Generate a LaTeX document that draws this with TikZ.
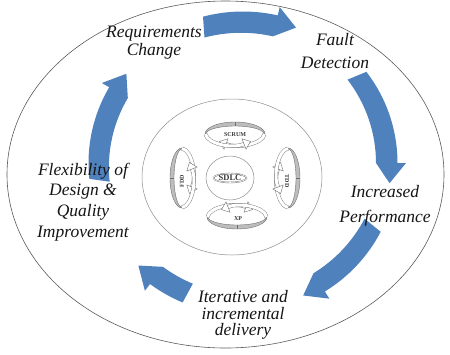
\documentclass[tikz,border=0pt]{standalone}
\usepackage{fontspec}
\setmainfont{Liberation Serif}
\usetikzlibrary{shapes.geometric}
\definecolor{cCycle}{HTML}{4F81BD}
\definecolor{cRim}{HTML}{5A5A5A}
\definecolor{cHalo}{HTML}{8C8C8C}
\definecolor{cRing}{HTML}{6E6E6E}
\definecolor{cBand}{HTML}{BDBDBD}
\definecolor{cInk}{HTML}{151515}

\tikzset{
  cycicon/.pic={
    % back half of the ring
    \path[band] (-30,0) arc[start angle=180, end angle=360, x radius=30, y radius=12]
      -- (29,0) arc[start angle=0, end angle=-180, x radius=29, y radius=8] -- cycle;
    \draw[cRing, line width=.4pt] (0,-12) -- (0,-8);
    % crossing arrows in front
    \draw[ribbon] (29.5,0) .. controls (28,10) and (2,15) .. (-9,10);
    \path[tip] (-15.5,7.4) -- (-11,15.2) -- (-7,4.8) -- cycle;
    \draw[ribbon] (-29.5,0) .. controls (-28,10) and (-2,15) .. (9,10);
    \path[tip] (15.5,7.4) -- (11,15.2) -- (7,4.8) -- cycle;
  }
}

\begin{document}
\begin{tikzpicture}[
  x=1pt, y=-1pt,
  stage/.style={font=\fontsize{17.5}{18}\selectfont\itshape, align=center,
                text=cInk, inner sep=0pt},
  rim/.style={draw=cRim, line width=.6pt},
  halo/.style={draw=cHalo, line width=.5pt},
  ribbon/.style={draw=cRing, double=white, double distance=3pt, line width=.4pt},
  tip/.style={draw=cRing, fill=white, line width=.4pt},
  band/.style={draw=cRing, fill=cBand, line width=.4pt},
  tag/.style={font=\fontsize{6}{7}\selectfont\bfseries, text=cInk!85, inner sep=0pt},
]
\useasboundingbox (0,0) rectangle (450,354);

% ---------------- frames ----------------
\draw[rim] (225.5,174.5) ellipse[x radius=218.5, y radius=173.5];
\draw[halo] (232,177) ellipse[x radius=90, y radius=78];
\draw[halo] (230,178) ellipse[x radius=24, y radius=22];

% ---------------- blue cycle ----------------
\coordinate (hub) at (243,163);
\newcommand{\cyclearrow}[2]{%
  \fill[cCycle] ([shift={(hub)}]#1:154.5 and 151.5)
    arc[start angle=#1, end angle=#2-8, x radius=154.5, y radius=151.5]
    -- ([shift={(hub)}]#2-8:163 and 160)
    -- ([shift={(hub)}]#2:148 and 145)
    -- ([shift={(hub)}]#2-8:133 and 130)
    arc[start angle=#2-8, end angle=#1, x radius=141.5, y radius=138.5]
    -- cycle;}

\cyclearrow{-105}{-69}
\cyclearrow{-37}{8}
\cyclearrow{27}{66}
\cyclearrow{113}{135}
\cyclearrow{174}{218}

\node[stage] (req) at (154,43) {Requirements\\Change};
\node[stage] (fault) at (335,51) {Fault\\[5pt]Detection};
\node[stage] (perf) at (385,206) {Increased\\[7pt]Performance};
\node[stage] (iter) at (243,315) {Iterative and\\[-1.5pt]incremental\\[-1.5pt]delivery};
\node[stage] (flex) at (83,202) {Flexibility of\\[2.7pt]Design \&\\[2.7pt]Quality\\[2.7pt]Improvement};

% ---------------- agile methods ----------------
\pic at (235,134) {cycicon};
\pic[rotate=180] at (237,217) {cycicon};
\pic[rotate=90] at (182,178) {cycicon};
\pic[rotate=-90] at (288,178) {cycicon};

\node[tag] (scrum) at (235,135) {SCRUM};
\node[tag] (xp) at (238,219) {XP};
\node[tag, rotate=90] (fdd) at (182,181) {FDD};
\node[tag, rotate=-90] (tdd) at (287,181) {TDD};

\node[tag, font=\fontsize{8.5}{9}\selectfont\bfseries, ellipse, draw=cRing, double,
      inner sep=.3pt] (sdlc) at (230,178) {SDLC};

\end{tikzpicture}
\end{document}
